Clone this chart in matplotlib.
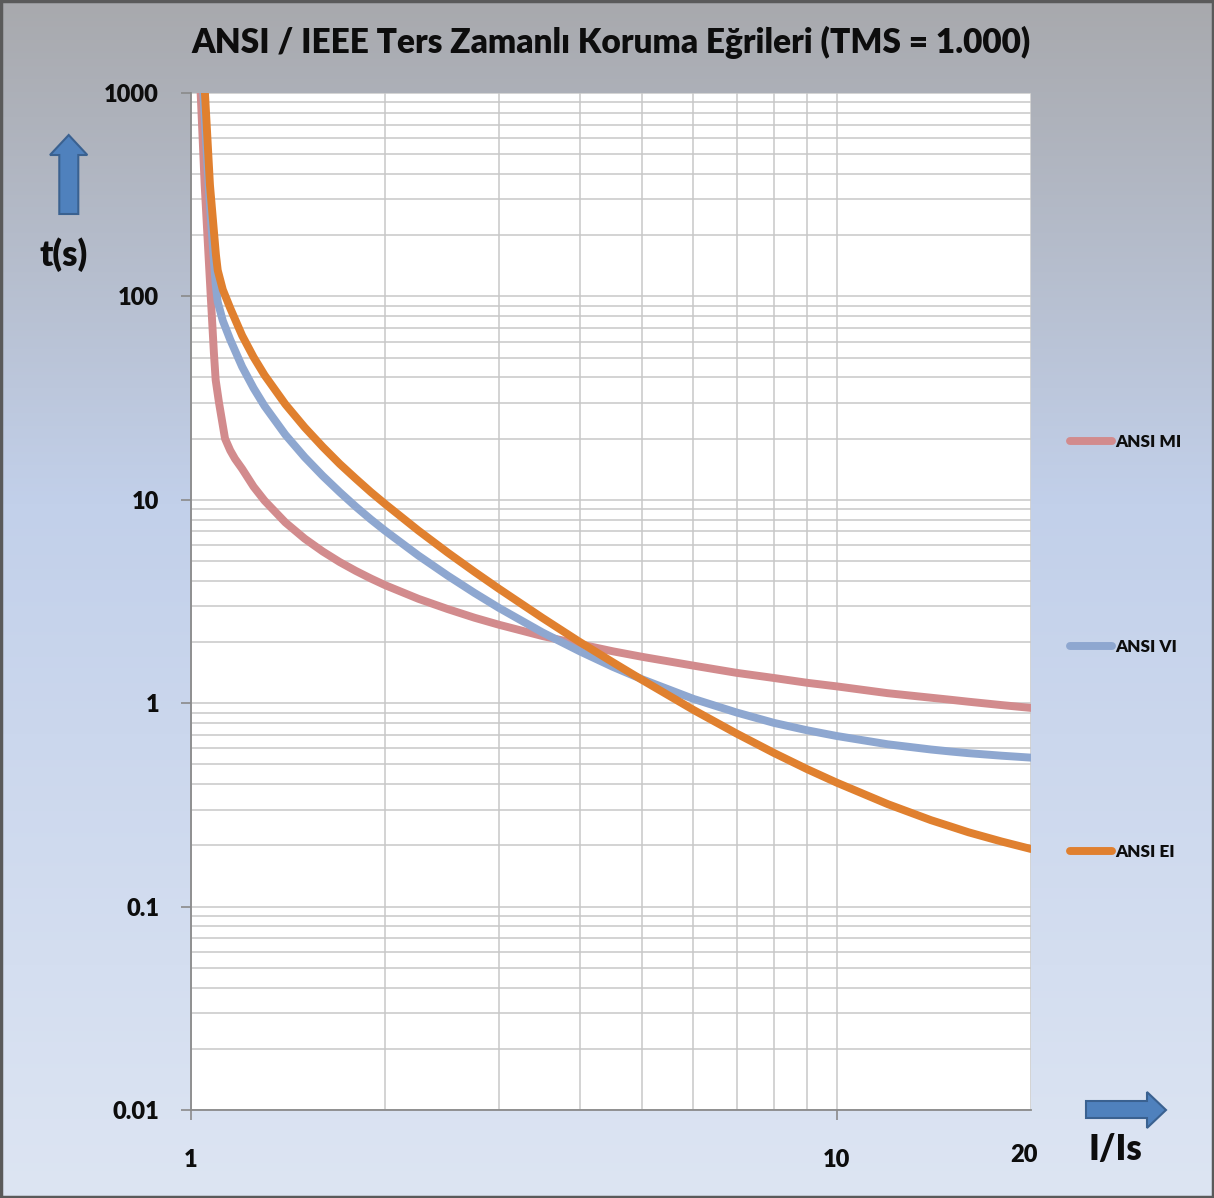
import numpy as np
import matplotlib
matplotlib.use("Agg")
import matplotlib.pyplot as plt
from matplotlib.patches import Polygon, Rectangle
from matplotlib.ticker import FixedLocator, FixedFormatter, LogLocator, NullFormatter

plt.rcParams['font.family'] = ['Lato', 'DejaVu Sans']

# ---------------- data ----------------
title = "ANSI / IEEE Ters Zamanlı Koruma Eğrileri (TMS = 1.000)"
series_names = ["ANSI MI", "ANSI VI", "ANSI EI"]
series_colors = ["#D28B8D", "#8EA7D0", "#E0802F"]

# common current multiples (I/Is)
base_x = [1.2, 1.25, 1.3, 1.4, 1.5, 1.6, 1.7, 1.8, 1.9, 2.0, 2.25, 2.5, 2.75,
          3.0, 3.5, 4.0, 4.5, 5.0, 6.0, 7.0, 8.0, 9.0, 10.0, 12.0, 14.0, 15.0,
          16.0, 18.0, 20.0]

mi_x = [1.035, 1.05, 1.073, 1.085, 1.092, 1.105, 1.129, 1.15, 1.17] + base_x
mi_t = [1000, 352, 100, 53, 38.8, 30, 20, 17.5, 15.9,
        14.2, 11.6, 9.9, 7.74, 6.44, 5.57, 4.94, 4.47, 4.10, 3.80, 3.26, 2.90, 2.63,
        2.43, 2.14, 1.95, 1.80, 1.69, 1.53, 1.41, 1.33, 1.26, 1.21, 1.12, 1.064, 1.04,
        1.017, 0.979, 0.948]

vi_x = [1.045, 1.065, 1.082, 1.092, 1.1, 1.12, 1.15] + base_x
vi_t = [1000, 350, 170, 115, 93.9, 76, 61.3,
        45.1, 35.4, 28.9, 20.9, 16.2, 13.1, 10.9, 9.25, 8.00, 7.03, 5.32, 4.23, 3.48,
        2.94, 2.23, 1.80, 1.51, 1.31, 1.05, 0.90, 0.80, 0.736, 0.69, 0.628, 0.592, 0.579,
        0.568, 0.552, 0.540]

ei_x = [1.051, 1.07, 1.085, 1.093, 1.1, 1.12, 1.15] + base_x
ei_t = [1000, 352, 210, 160, 134.4, 108, 87.6,
        64.2, 50.3, 41.0, 29.5, 22.7, 18.2, 15.0, 12.7, 10.9, 9.52, 7.06, 5.49, 4.42,
        3.65, 2.63, 2.00, 1.59, 1.30, 0.927, 0.709, 0.569, 0.474, 0.407, 0.319, 0.266,
        0.248, 0.232, 0.209, 0.192]

y_ticks = [0.01, 0.1, 1, 10, 100, 1000]
y_tick_labels = ["0.01", "0.1", "1", "10", "100", "1000"]
x_ticks = [1, 10]
x_tick_labels = ["1", "10"]
x_end_label = "20"

# ---------------- figure ----------------
W, H = 1214, 1198
fig = plt.figure(figsize=(W / 100, H / 100), dpi=100)
WEIGHT = 'heavy'
TXT = '#0d0d0d'

# background gradient
bg = fig.add_axes([0, 0, 1, 1], zorder=0)
stops = np.array([[0.0, 168, 169, 173],
                  [0.42, 194, 208, 234],
                  [1.0, 221, 229, 243]])
yy = np.linspace(0, 1, 400)
cols = np.stack([np.interp(yy, stops[:, 0], stops[:, i]) for i in (1, 2, 3)], axis=1) / 255.0
grad = np.repeat(cols[:, None, :], 2, axis=1)
bg.imshow(grad, extent=[0, W, H, 0], aspect='auto', interpolation='bilinear')
bg.set_xlim(0, W)
bg.set_ylim(H, 0)
bg.axis('off')
bg.add_patch(Rectangle((1, 1), W - 2, H - 2, fill=False, edgecolor="#5a5a5a", lw=2.5))

# arrows
up = [(68.7, 135), (87.3, 155), (78.3, 155), (78.3, 214), (59.3, 214), (59.3, 155), (50, 155)]
right = [(1086, 1101), (1147, 1101), (1147, 1092), (1166, 1110), (1147, 1128), (1147, 1118), (1086, 1118)]
for pts in (up, right):
    bg.add_patch(Polygon(pts, closed=True, facecolor="#4F81BD", edgecolor="#3A6190", lw=1.5))

bg.text(611, 42, title, ha='center', va='center', fontsize=24, fontweight=WEIGHT, color=TXT)
bg.text(64, 255, "t(s)", ha='center', va='center', fontsize=25, fontweight=WEIGHT, color=TXT)
bg.text(1115, 1150, "I/Is", ha='center', va='center', fontsize=25, fontweight=WEIGHT, color=TXT)
bg.text(1024, 1155, x_end_label, ha='center', va='center', fontsize=17, fontweight=WEIGHT, color=TXT)

# main axes
L, R, T, B = 191, 1031, 93, 1110
ax = fig.add_axes([L / W, 1 - B / H, (R - L) / W, (B - T) / H], zorder=1)
ax.set_facecolor('white')
ax.set_xscale('log')
ax.set_yscale('log')
ax.set_xlim(1, 20)
ax.set_ylim(0.01, 1000)

for xs, ts, name, c in zip((mi_x, vi_x, ei_x), (mi_t, vi_t, ei_t), series_names, series_colors):
    ax.plot(xs, ts, color=c, lw=5.7, solid_capstyle='round', solid_joinstyle='round',
            label=name, zorder=3)

ax.yaxis.set_major_locator(FixedLocator(y_ticks))
ax.yaxis.set_major_formatter(FixedFormatter(y_tick_labels))
ax.yaxis.set_minor_locator(LogLocator(base=10, subs=np.arange(2, 10)))
ax.yaxis.set_minor_formatter(NullFormatter())
ax.xaxis.set_major_locator(FixedLocator(x_ticks))
ax.xaxis.set_major_formatter(FixedFormatter(x_tick_labels))
ax.xaxis.set_minor_locator(LogLocator(base=10, subs=np.arange(2, 10)))
ax.xaxis.set_minor_formatter(NullFormatter())

ax.grid(which='both', color='#c8c8c8', lw=1.1, zorder=0)
ax.set_axisbelow(True)
for s in ('top', 'right'):
    ax.spines[s].set_visible(False)
for s in ('left', 'bottom'):
    ax.spines[s].set_color('#8a8a8a')
    ax.spines[s].set_linewidth(1.3)

ax.tick_params(which='major', length=7, width=1.2, color='#8a8a8a', direction='out')
ax.tick_params(which='minor', length=0)
ax.tick_params(axis='y', which='major', pad=16, labelsize=17)
ax.tick_params(axis='x', which='major', pad=21, labelsize=17)
for lab in ax.get_xticklabels() + ax.get_yticklabels():
    lab.set_fontweight(WEIGHT)
    lab.set_color(TXT)

leg = fig.legend(loc='center left', bbox_to_anchor=(1070 / W, 1 - 647 / H),
                 frameon=False, fontsize=12.3, handlelength=2.45, handletextpad=0.2,
                 labelspacing=11.08, borderpad=0, borderaxespad=0)
for t in leg.get_texts():
    t.set_fontweight(WEIGHT)
    t.set_color(TXT)
for h in leg.legend_handles:
    h.set_linewidth(5.7)

fig.savefig("out.png", dpi=100)
